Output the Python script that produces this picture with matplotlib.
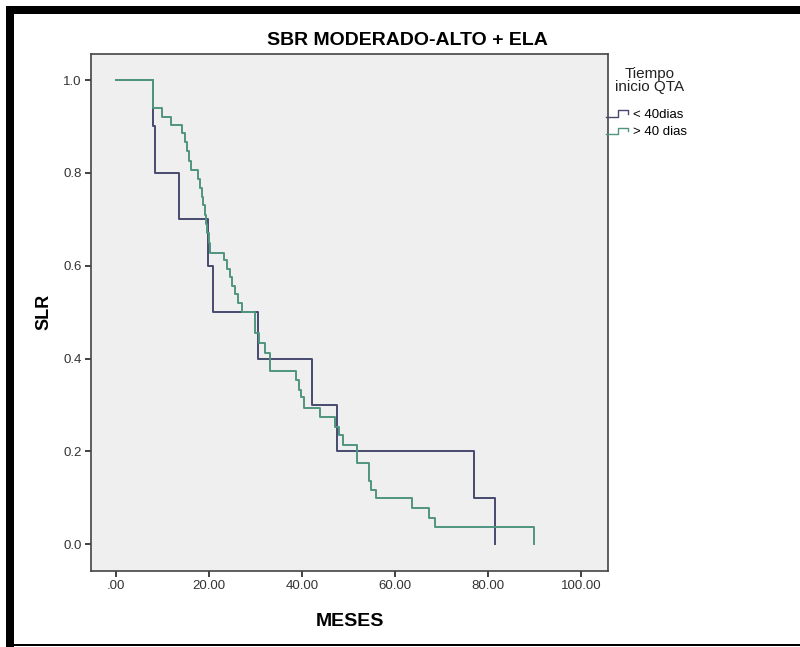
import numpy as np
import matplotlib
matplotlib.use("Agg")
import matplotlib.pyplot as plt
from matplotlib.legend_handler import HandlerBase
from matplotlib.lines import Line2D
from matplotlib.patches import Rectangle

plt.rcParams['font.family'] = ['Liberation Sans', 'DejaVu Sans']

# Kaplan-Meier curves: event times (months) and survival after each step
meses_menos40 = [0, 8.0, 8.4, 13.6, 19.7, 20.9, 30.6, 42.1, 47.6, 76.9, 81.6]
slr_menos40 = [1.0, 0.9, 0.8, 0.7, 0.6, 0.5, 0.4, 0.3, 0.2, 0.1, 0.0]

meses_mas40 = [0, 7.9, 9.8, 11.8, 14.1, 14.8, 15.3, 15.7, 16.0, 17.6, 18.0,
               18.4, 18.7, 19.0, 19.3, 19.6, 19.9, 20.2, 23.1, 23.8, 24.4,
               25.0, 25.6, 26.3, 27.0, 29.9, 30.8, 32.0, 33.1, 38.6, 39.3,
               39.8, 40.3, 43.9, 47.1, 47.9, 48.7, 51.8, 54.3, 54.9, 55.9,
               63.6, 67.2, 68.6, 89.8]
slr_mas40 = [1.0, 0.940, 0.921, 0.903, 0.885, 0.866, 0.847, 0.825, 0.806,
             0.787, 0.768, 0.749, 0.730, 0.710, 0.690, 0.670, 0.650, 0.628,
             0.612, 0.594, 0.576, 0.557, 0.538, 0.519, 0.500, 0.455, 0.433,
             0.411, 0.373, 0.354, 0.332, 0.318, 0.293, 0.275, 0.253, 0.235,
             0.214, 0.174, 0.136, 0.117, 0.099, 0.078, 0.056, 0.038, 0.0]

grupos = ['< 40dias', '> 40 dias']
x_ticks = [0, 20, 40, 60, 80, 100]
x_ticklabels = ['.00', '20.00', '40.00', '60.00', '80.00', '100.00']
y_ticks = [0.0, 0.2, 0.4, 0.6, 0.8, 1.0]
y_ticklabels = ['0.0', '0.2', '0.4', '0.6', '0.8', '1.0']


class StepHandler(HandlerBase):
    # small staircase glyph for the legend entries
    def create_artists(self, legend, orig_handle, xdescent, ydescent,
                       width, height, fontsize, trans):
        xs = np.array([0.0, 0.45, 0.45, 0.85, 0.85]) * width - xdescent
        ys = np.array([0.15, 0.15, 0.85, 0.85, 0.45]) * height - ydescent
        line = Line2D(xs, ys, color=orig_handle.get_color(),
                      lw=1.0, transform=trans)
        return [line]


fig = plt.figure(figsize=(8, 6.47), dpi=100)
ax = fig.add_axes([0.1134, 0.1179, 0.6470, 0.7986])
ax.set_facecolor('#efefef')

l1, = ax.step(meses_menos40, slr_menos40, where='post',
              color='#474a6e', lw=1.4)
l2, = ax.step(meses_mas40, slr_mas40, where='post',
              color='#4f957f', lw=1.4)

ax.set_xlim(-5.5, 105.9)
ax.set_ylim(-0.057, 1.056)
ax.set_xticks(x_ticks)
ax.set_xticklabels(x_ticklabels)
ax.set_yticks(y_ticks)
ax.set_yticklabels(y_ticklabels)
ax.tick_params(direction='out', length=4.5, width=1.3, colors='#333333',
               labelsize=9.5, pad=2)

for s in ax.spines.values():
    s.set_color('#444444')
    s.set_linewidth(1.2)

ax.set_xlabel('MESES', fontsize=14, fontweight='bold', labelpad=15)
ax.set_ylabel('SLR', fontsize=13, fontweight='bold', labelpad=8)

fig.text(0.509, 0.938, 'SBR MODERADO-ALTO + ELA', ha='center', va='center',
         fontsize=14, fontweight='bold')

# legend title and entries to the right of the plot
fig.text(0.8125, 0.876, 'Tiempo\ninicio QTA', ha='center', va='center',
         fontsize=11, color='#222222', linespacing=0.95)
fig.legend([l1, l2], grupos, loc='upper left',
           bbox_to_anchor=(606 / 800, 1 - 109 / 647),
           frameon=False, fontsize=9.5,
           handlelength=2.0, handletextpad=0.05, labelspacing=0.38,
           borderaxespad=0, borderpad=0,
           handler_map={Line2D: StepHandler()})

# heavy black frame along the top and left edges, thin one at the bottom
fig.add_artist(Rectangle((6 / 800, 0), 8 / 800, 1 - 6 / 647,
                         transform=fig.transFigure, color='black', lw=0))
fig.add_artist(Rectangle((6 / 800, 1 - 14 / 647), 1, 8 / 647,
                         transform=fig.transFigure, color='black', lw=0))
fig.add_artist(Rectangle((6 / 800, 1 / 647), 1, 2 / 647,
                         transform=fig.transFigure, color='black', lw=0))

fig.savefig('out.png', dpi=100)
